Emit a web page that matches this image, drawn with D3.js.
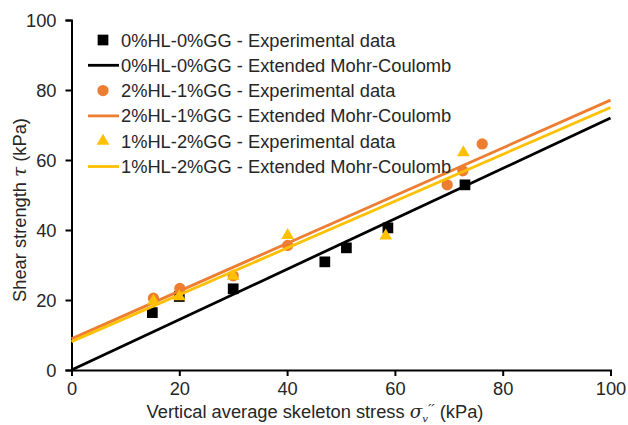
<!DOCTYPE html>
<html>
<head>
<meta charset="utf-8">
<script src="https://cdn.jsdelivr.net/npm/d3@7"></script>
<style>
  html, body { margin: 0; padding: 0; background: #fff; }
  svg { display: block; font-family: "Liberation Sans", Arial, sans-serif; }
</style>
</head>
<body>
<svg id="chart" width="628" height="425"></svg>
<script>
// Series: specimen mixes and their measured (sigma, tau) pairs
const seriesNames = ["0%HL-0%GG", "2%HL-1%GG", "1%HL-2%GG"];
const seriesColors = ["#000000", "#ED7D31", "#FFC000"];
const seriesSymbols = ["square", "circle", "triangle"];

const sigma0 = [15, 20, 30, 47, 51, 58.7, 73];
const tau0   = [16.4, 21, 23.2, 30.9, 34.9, 40.6, 52.9];

const sigma1 = [15.2, 20.1, 30, 40.1, 69.7, 72.6, 76.2];
const tau1   = [20.5, 23.3, 26.9, 35.6, 52.9, 56.9, 64.6];

const sigma2 = [15.2, 20, 30, 40.1, 58.3, 72.7];
const tau2   = [19.7, 21, 26.8, 38.5, 38.3, 62.1];

// Extended Mohr-Coulomb fits: tau = c + sigma * tan(phi)
const cohesion = [0, 8.9, 8.1];
const slope    = [0.72, 0.682, 0.669];

const xTicks = [0, 20, 40, 60, 80, 100];
const yTicks = [0, 20, 40, 60, 80, 100];

const points = [
  sigma0.map((s, i) => ({ s, t: tau0[i] })),
  sigma1.map((s, i) => ({ s, t: tau1[i] })),
  sigma2.map((s, i) => ({ s, t: tau2[i] }))
];

const svg = d3.select("#chart");
const m = { left: 71.5, right: 610.5, top: 20, bottom: 370 };
const x = d3.scaleLinear().domain([0, 100]).range([m.left, m.right]);
const y = d3.scaleLinear().domain([0, 100]).range([m.bottom, m.top]);

const textColor = "#262626";
const fontSize = 18.3;

// Axes
const xAxis = svg.append("g").attr("transform", `translate(0,${m.bottom})`)
  .call(d3.axisBottom(x).tickValues(xTicks).tickSizeOuter(0).tickSize(6).tickPadding(6));
const yAxis = svg.append("g").attr("transform", `translate(${m.left},0)`)
  .call(d3.axisLeft(y).tickValues(yTicks).tickSizeOuter(0).tickSize(6).tickPadding(9));
[xAxis, yAxis].forEach(g => {
  g.select(".domain").attr("stroke", "#000").attr("stroke-width", 2);
  g.selectAll(".tick line").attr("stroke", "#000").attr("stroke-width", 2);
  g.selectAll(".tick text").attr("fill", textColor)
    .style("font-size", fontSize + "px").style("font-family", "Liberation Sans, Arial, sans-serif");
});
yAxis.selectAll(".tick text").attr("dy", "0.36em");

// Axis titles
const xt = svg.append("text")
  .attr("x", 315).attr("y", 418)
  .attr("text-anchor", "middle").attr("fill", textColor)
  .style("font-size", fontSize + "px");
xt.append("tspan").text("Vertical average skeleton stress ");
xt.append("tspan").attr("font-family", "DejaVu Serif, serif").attr("font-style", "italic").text("σ");
xt.append("tspan").attr("font-family", "DejaVu Serif, serif").attr("font-style", "italic")
  .attr("font-size", "10px").attr("dy", 4).text("v");
xt.append("tspan").attr("font-family", "DejaVu Serif, serif").attr("font-style", "italic")
  .attr("font-size", "15px").attr("dy", -7).text("′′");
xt.append("tspan").attr("dy", 3).text(" (kPa)");

const yt = svg.append("text")
  .attr("transform", `translate(26,210) rotate(-90)`)
  .attr("text-anchor", "middle").attr("fill", textColor)
  .style("font-size", fontSize + "px");
yt.append("tspan").text("Shear strength ");
yt.append("tspan").attr("font-family", "DejaVu Serif, serif").attr("font-style", "italic").text("τ");
yt.append("tspan").text(" (kPa)");

// Symbol paths
function symbolPath(kind) {
  if (kind === "square") return d3.symbol().type(d3.symbolSquare).size(115)();
  if (kind === "circle") return d3.symbol().type(d3.symbolCircle).size(100)();
  return d3.symbol().type(d3.symbolTriangle).size(70)();
}

const plot = svg.append("g");
const line = d3.line().x(d => x(d.s)).y(d => y(d.t));
const [xMin, xMax] = x.domain();

seriesNames.forEach((name, k) => {
  // experimental points
  plot.append("g").selectAll("path").data(points[k]).join("path")
    .attr("d", symbolPath(seriesSymbols[k]))
    .attr("transform", d => `translate(${x(d.s)},${y(d.t)})`)
    .attr("fill", seriesColors[k]);
  // fitted envelope across the axis range
  const fit = [xMin, xMax].map(s => ({ s, t: cohesion[k] + slope[k] * s }));
  plot.append("path").datum(fit)
    .attr("d", line).attr("fill", "none")
    .attr("stroke", seriesColors[k]).attr("stroke-width", 2.8);
});

// Legend
const legend = svg.append("g");
const rowY0 = 40, rowStep = 25.3;
seriesNames.forEach((name, k) => {
  const yExp = rowY0 + rowStep * (2 * k);
  const yFit = rowY0 + rowStep * (2 * k + 1);
  legend.append("path").attr("d", symbolPath(seriesSymbols[k]))
    .attr("transform", `translate(103,${yExp})`).attr("fill", seriesColors[k]);
  legend.append("text").attr("x", 121).attr("y", yExp).attr("dy", "0.36em")
    .attr("fill", textColor).style("font-size", fontSize + "px")
    .text(`${name} - Experimental data`);
  legend.append("line").attr("x1", 88).attr("x2", 119).attr("y1", yFit).attr("y2", yFit)
    .attr("stroke", seriesColors[k]).attr("stroke-width", 2.8);
  legend.append("text").attr("x", 121).attr("y", yFit).attr("dy", "0.36em")
    .attr("fill", textColor).style("font-size", fontSize + "px")
    .text(`${name} - Extended Mohr-Coulomb`);
});
</script>
</body>
</html>
